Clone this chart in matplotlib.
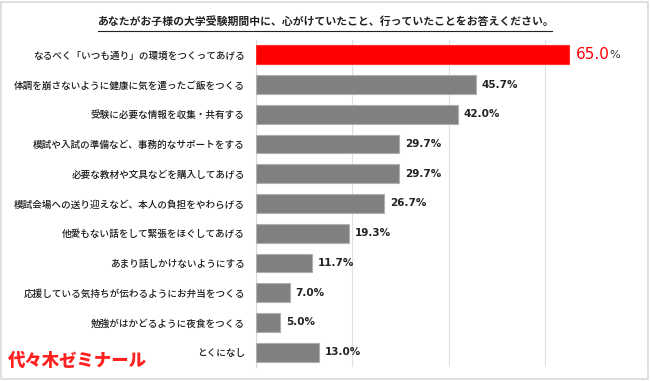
import numpy as np
import matplotlib.pyplot as plt
from matplotlib.lines import Line2D
from matplotlib.patches import Rectangle

plt.rcParams['font.family'] = ['Noto Sans CJK JP', 'DejaVu Sans']

labels = ['なるべく「いつも通り」の環境をつくってあげる',
          '体調を崩さないように健康に気を遣ったご飯をつくる',
          '受験に必要な情報を収集・共有する',
          '模試や入試の準備など、事務的なサポートをする',
          '必要な教材や文具などを購入してあげる',
          '模試会場への送り迎えなど、本人の負担をやわらげる',
          '他愛もない話をして緊張をほぐしてあげる',
          'あまり話しかけないようにする',
          '応援している気持ちが伝わるようにお弁当をつくる',
          '勉強がはかどるように夜食をつくる',
          'とくになし']
values = [65.0, 45.7, 42.0, 29.7, 29.7, 26.7, 19.3, 11.7, 7.0, 5.0, 13.0]
title = 'あなたがお子様の大学受験期間中に、心がけていたこと、行っていたことをお答えください。'

fig = plt.figure(figsize=(6.5, 3.81), dpi=100)
ax = fig.add_axes([256/650, 1-367/381, 385/650, 327/381])

y = np.arange(len(values))
colors = ['#ff0000'] + ['#808080'] * (len(values) - 1)
edges = ['#ff3030'] + ['#b0b0b0'] * (len(values) - 1)
ax.barh(y, values, height=0.63, color=colors, edgecolor=edges, linewidth=0.8, zorder=3)

ax.set_xlim(0, 80)
ax.set_ylim(len(values) - 0.5, -0.5)
ax.set_xticks([0, 20, 40, 60, 80])
ax.set_xticklabels([])
ax.set_yticks(y)
ax.set_yticklabels(labels, fontsize=6.9, color='#1a1a1a', fontweight='medium')
ax.tick_params(length=0, pad=8)
ax.grid(axis='x', color='#e0e0e0', linewidth=0.8, zorder=0)
for s in ['top', 'right', 'bottom']:
    ax.spines[s].set_visible(False)
ax.spines['left'].set_color('#d9d9d9')

for i, v in enumerate(values):
    if i == 0:
        t = ax.text(v + 1.4, i, '{:.1f}'.format(v), va='center', ha='left',
                    fontsize=11, color='#ff0000', family='DejaVu Sans')
        ax.annotate('%', xycoords=t, xy=(1, 0.5), va='center', ha='left',
                    fontsize=8, color='#333333', family='DejaVu Sans')
    else:
        ax.text(v + 1.2, i, '{:.1f}%'.format(v), va='center', ha='left',
                fontsize=7.5, fontweight='bold', color='#222222', family='DejaVu Sans')

fig.text(325/650, 1-22/381, title, ha='center', va='center', fontsize=7.8,
         fontweight='bold', color='#222222')
fig.lines.append(Line2D([98/650, 552/650], [1-31/381, 1-31/381],
                        transform=fig.transFigure, color='#222222', linewidth=0.8))

fig.text(77/650, 1-361/381, '代々木ゼミナール', ha='center', va='center', fontsize=12.5,
         fontweight='heavy', color='#ff2020', style='italic')

fig.patches.append(Rectangle((0.002, 0.004), 0.995, 0.992, transform=fig.transFigure,
                             fill=False, edgecolor='#d9d9d9', linewidth=1.2))

fig.savefig('out.png', dpi=100)
